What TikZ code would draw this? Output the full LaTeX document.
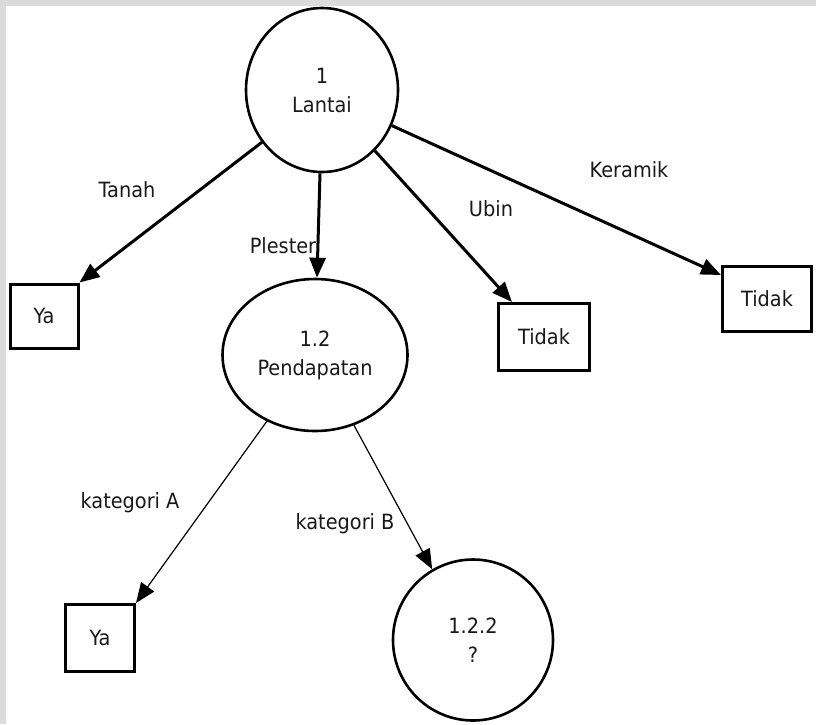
\documentclass[tikz,border=0pt]{standalone}
\usepackage{fontspec}
\setmainfont{DejaVu Sans}[FakeStretch=0.92]
\usetikzlibrary{shapes.geometric,arrows.meta}
\begin{document}
\begin{tikzpicture}[x=1pt,y=-1pt,
  txt/.style={font=\fontsize{21}{29}\selectfont, text=black!90},
  lbl/.style={txt, inner sep=0pt},
  proc/.style={txt, ellipse, draw, line width=2.6pt, inner sep=0pt, align=center},
  leaf/.style={txt, rectangle, draw, line width=3pt, inner sep=0pt},
  heavyarrow/.style={line width=3pt, -{Triangle[length=20pt,width=16pt]}},
  lightarrow/.style={line width=1.2pt, -{Triangle[length=20pt,width=16pt]}}
]
\useasboundingbox (0,0) rectangle (816,724);
% page background with a light grey margin on the top and left
\fill[gray!28] (0,0) rectangle (816,724);
\fill[white] (6,6) rectangle (816,724);

% decision nodes
\node[proc, minimum width=152pt, minimum height=164pt] (c1)   at (322,90)  {1\\Lantai};
\node[proc, minimum width=185pt, minimum height=152pt] (c12)  at (315,355) {1.2\\Pendapatan};
\node[proc, minimum width=160pt, minimum height=161pt] (c122) at (473,640) {1.2.2\\?};

% outcome boxes
\node[leaf, minimum width=68pt, minimum height=64pt] (ya1)  at (44,316)  {Ya};
\node[leaf, minimum width=91pt, minimum height=67pt] (td1)  at (544,337) {Tidak};
\node[leaf, minimum width=89pt, minimum height=65pt] (td2)  at (767,299) {Tidak};
\node[leaf, minimum width=69pt, minimum height=67pt] (ya2)  at (100,638) {Ya};

% branches of the first split
\draw[heavyarrow] (c1.221) -- (ya1.north east);
\draw[heavyarrow] ([xshift=-2pt]c1.south) -- ([xshift=2pt]c12.north);
\draw[heavyarrow] (c1.311) -- ([xshift=15pt]td1.north west);
\draw[heavyarrow] (c1.333) -- ([yshift=-10pt]td2.north west);

% branches of the second split
\draw[lightarrow] (c12.234) -- (ya2.north east);
\draw[lightarrow] (c12.299) -- (c122.120);

% branch labels
\node[lbl] (lt) at (127,190) {Tanah};
\node[lbl] (lp) at (283,246) {Plester};
\node[lbl] (lu) at (491,209) {Ubin};
\node[lbl] (lk) at (629,170) {Keramik};
\node[lbl] (la) at (130,503) {kategori A};
\node[lbl] (lb) at (345,524) {kategori B};
\end{tikzpicture}
\end{document}
